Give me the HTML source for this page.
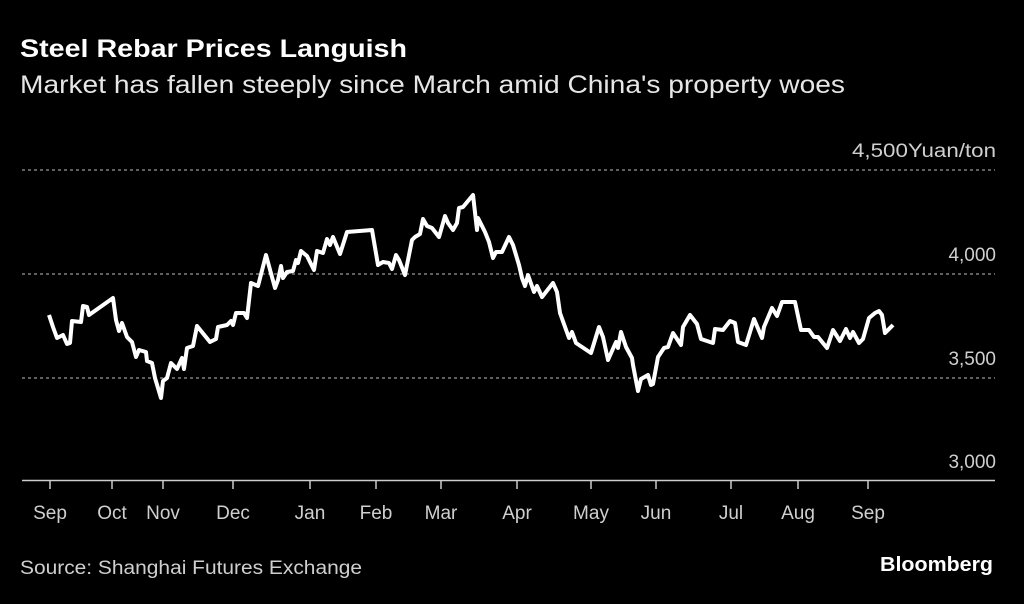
<!DOCTYPE html>
<html><head><meta charset="utf-8"><style>
html,body{margin:0;padding:0;background:#000;}
body{width:1024px;height:599px;overflow:hidden;font-family:"Liberation Sans",sans-serif;}
</style></head><body>
<svg width="1024" height="599" viewBox="0 0 1024 599" xmlns="http://www.w3.org/2000/svg" font-family="Liberation Sans, sans-serif">
<rect width="1024" height="599" fill="#000"/>
<text x="20" y="57" fill="#fff" font-size="25" font-weight="bold" textLength="387" lengthAdjust="spacingAndGlyphs">Steel Rebar Prices Languish</text>
<text x="20" y="93" fill="#e6e6e6" font-size="25" textLength="825" lengthAdjust="spacingAndGlyphs">Market has fallen steeply since March amid China's property woes</text>
<g stroke="#999" stroke-width="1.3" stroke-dasharray="3,3">
<line x1="22" y1="170" x2="995" y2="170"/>
<line x1="22" y1="274" x2="995" y2="274"/>
<line x1="22" y1="378" x2="995" y2="378"/>
</g>
<g fill="#cfcfcf" font-size="19" text-anchor="end">
<text x="996" y="157" textLength="144" lengthAdjust="spacingAndGlyphs">4,500Yuan/ton</text>
<text x="996" y="261">4,000</text>
<text x="996" y="365">3,500</text>
<text x="996" y="468">3,000</text>
</g>
<line x1="22" y1="480.5" x2="995" y2="480.5" stroke="#ccc" stroke-width="1.5"/>
<g stroke="#ccc" stroke-width="1.5">
<line x1="50" y1="481" x2="50" y2="489"/><line x1="112" y1="481" x2="112" y2="489"/>
<line x1="163" y1="481" x2="163" y2="489"/><line x1="233" y1="481" x2="233" y2="489"/>
<line x1="310" y1="481" x2="310" y2="489"/><line x1="376" y1="481" x2="376" y2="489"/>
<line x1="441" y1="481" x2="441" y2="489"/><line x1="517" y1="481" x2="517" y2="489"/>
<line x1="591" y1="481" x2="591" y2="489"/><line x1="656" y1="481" x2="656" y2="489"/>
<line x1="731" y1="481" x2="731" y2="489"/><line x1="798" y1="481" x2="798" y2="489"/>
<line x1="868" y1="481" x2="868" y2="489"/>
</g>
<g fill="#cfcfcf" font-size="19" text-anchor="middle">
<text x="50" y="519">Sep</text><text x="112" y="519">Oct</text><text x="163" y="519">Nov</text>
<text x="233" y="519">Dec</text><text x="310" y="519">Jan</text><text x="376" y="519">Feb</text>
<text x="441" y="519">Mar</text><text x="517" y="519">Apr</text><text x="591" y="519">May</text>
<text x="656" y="519">Jun</text><text x="731" y="519">Jul</text><text x="798" y="519">Aug</text>
<text x="868" y="519">Sep</text>
</g>
<polyline fill="none" stroke="#fff" stroke-width="4" stroke-linejoin="round" points="49,315 53,327 57,338 63,335 67,344 70,343 72,321 81,322 83,306 87,307 89,315 113,298 116,320 119,331 122,323 127,337 132,342 136,357 139,350 146,352 147,361 152,363 155,378 161,398 163,381 167,378 171,363 177,369 182,358 184,369 187,348 193,346 197,326 210,342 216,339 218,327 227,325 231,321 233,325 236,313 244,313 247,318 251,283 258,286 266,255 275,288 278,280 281,266 283,278 287,272 293,271 296,260 298,263 301,251 307,256 310,262 314,270 317,251 323,253 327,239 330,245 333,237 340,254 347,232 372,230 378,265 383,262 389,263 392,269 396,255 399,260 405,275 412,240 415,237 420,234 423,219 427,226 432,228 439,237 445,216 448,223 453,230 457,223 459,208 463,207 473,195 477,230 478,218 485,232 489,242 493,258 496,252 502,252 509,237 513,245 519,265 522,278 525,286 528,275 534,292 537,286 542,297 553,283 557,292 560,313 569,338 572,332 576,343 591,353 599,327 603,337 608,360 616,342 618,348 621,332 626,347 632,358 633,365 638,391 641,379 648,375 651,385 653,384 658,357 664,348 668,347 673,333 681,345 683,327 690,315 697,324 701,339 713,343 715,329 723,330 730,321 735,323 738,342 746,345 754,319 762,338 764,327 772,308 777,316 782,302 786,302 795,302 801,330 809,330 814,337 818,337 827,348 833,330 840,341 846,329 850,338 853,332 859,343 863,339 869,318 875,313 879,311 882,315 885,333 893,325"/>
<text x="20" y="574" fill="#cfcfcf" font-size="19" textLength="342" lengthAdjust="spacingAndGlyphs">Source: Shanghai Futures Exchange</text>
<text x="993" y="571" fill="#fff" font-size="20" font-weight="bold" text-anchor="end" textLength="113" lengthAdjust="spacingAndGlyphs">Bloomberg</text>
</svg>
</body></html>
